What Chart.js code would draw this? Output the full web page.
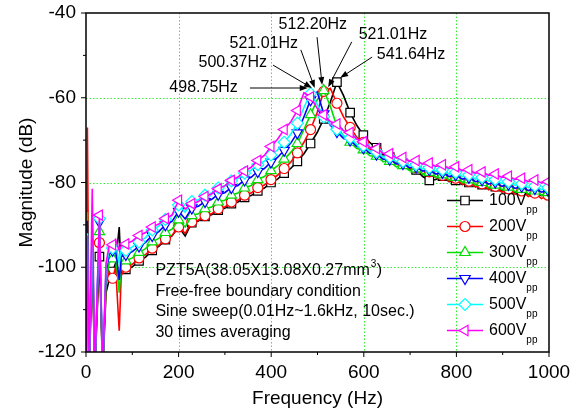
<!DOCTYPE html>
<html>
<head>
<meta charset="utf-8">
<script src="https://cdn.jsdelivr.net/npm/chart.js@4.4.0/dist/chart.umd.min.js"></script>
<style>
  html, body { margin: 0; padding: 0; background: #fff; }
</style>
</head>
<body>
<canvas id="myChart" width="571" height="419"></canvas>
<script>
// frequency axis (Hz), shared by all sweeps
const freq = [0.5, 3, 7, 13.5, 19, 29, 36, 43.25, 50, 57.5, 64, 71.75, 76, 86,
  100.25, 114.5, 128.75, 143, 157.25, 171.5, 185.75, 200, 214.25, 228.5, 242.75, 257, 271.25,
  285.5, 299.75, 314, 328.25, 342.5, 356.75, 371, 385.25, 399.5, 413.75, 428, 442.25, 456.5,
  470.75, 485, 499.25, 513.5, 527.75, 542, 556.25, 570.5, 584.75, 599, 613.25, 627.5, 641.75,
  656, 670.25, 684.5, 698.75, 713, 727.25, 741.5, 755.75, 770, 784.25, 798.5, 812.75, 827,
  841.25, 855.5, 869.75, 884, 898.25, 912.5, 926.75, 941, 955.25, 969.5, 983.75, 998, 1012.25];

// magnitude (dB) per drive level
const v100 = [-125, -90, -125, -98, -125, -97.5, -125, -106, -103, -101, -99, -90.5, -101, -100.5,
  -99.9, -98.5, -97.6, -96, -95.1, -93.5, -92.6, -90.5, -92.6, -89.5, -89.1, -88, -87.6, -86.5,
  -86.1, -85, -84.6, -83.5, -83.1, -82, -81.3, -80, -79.2, -77.8, -76.7, -75, -73.2, -70.8, -68.2,
  -65, -61, -56.3, -59.5, -63.5, -66.5, -68.8, -70.6, -71.8, -73.4, -74, -75.3, -75.5, -76.8, -77,
  -78.6, -79.5, -79.3, -78.5, -79.8, -79.5, -80.5, -80, -81, -80.5, -81.5, -81, -82, -81.5, -82.4,
  -81.8, -82.8, -82.2, -83.1, -82.5, -83.5];
const v200 = [-125, -67, -125, -95, -125, -94.2, -125, -104, -101, -102.6, -100, -115, -102, -100,
  -99.3, -97.8, -97, -95.5, -94.8, -93.3, -92.5, -90.5, -92, -89.3, -88.9, -87.8, -87.4, -86.2,
  -85.8, -84.6, -84.2, -83, -82.5, -81.2, -80.6, -79.3, -78.3, -76.7, -75.2, -73, -70.5, -67.5,
  -63.5, -58.5, -57.8, -61.3, -64.5, -67, -69.3, -70.5, -72.2, -72.5, -74, -74, -75.5, -75.5, -76.8,
  -76.5, -78, -77.5, -78.9, -78.3, -79.7, -79, -80.4, -79.7, -81.1, -80.3, -81.7, -80.9, -82.3,
  -81.5, -82.8, -82, -83.3, -82.5, -83.8, -83, -84];
const v300 = [-125, -87, -125, -93, -125, -91.6, -125, -103, -99, -98, -97, -106, -99, -98.5,
  -97.8, -96.5, -95.6, -94, -93.2, -91.8, -91, -88.8, -90.5, -87.8, -87.4, -86.2, -85.8, -84.6,
  -84.2, -83, -82.5, -81.3, -80.7, -79.3, -78.6, -77.2, -76.1, -74.5, -72.9, -70.8, -67.5, -64,
  -60.5, -58.3, -62, -66.8, -69, -70.5, -72, -72.3, -73.7, -73.8, -75.1, -75, -76.3, -76, -77.2,
  -76.8, -78, -77.6, -78.8, -78.2, -79.4, -78.8, -80, -79.4, -80.6, -80, -81.2, -80.6, -81.7,
  -81.1, -82.2, -81.6, -82.7, -82, -83, -82.4, -83.4];
const v400 = [-125, -89, -125, -90, -125, -89.3, -125, -101, -97, -96, -95.5, -103, -97.5, -97,
  -96.3, -95, -94.1, -92.5, -91.6, -90, -89.2, -86.8, -88.6, -86, -85.6, -84.5, -84, -82.8,
  -82.4, -81.2, -80.7, -79.4, -78.8, -77.4, -76.7, -75.2, -74.1, -72.4, -70.7, -68.3, -64.5, -60.5,
  -58.6, -63.8, -66.5, -68, -69.6, -70, -71.5, -71.8, -73.1, -73.3, -74.5, -74.5, -75.6, -75.5,
  -76.5, -76.3, -77.3, -77, -78, -77.6, -78.6, -78.2, -79.2, -78.8, -79.8, -79.4, -80.4, -79.9,
  -80.9, -80.4, -81.4, -80.9, -81.9, -81.4, -82.3, -81.8, -82.8];
const v500 = [-125, -92, -125, -88.5, -125, -88.5, -125, -100, -96, -95.5, -94.5, -99, -96, -96,
  -95.2, -94, -93, -91.2, -90.3, -88.7, -87.8, -85.3, -87, -84.5, -84.1, -83, -82.5, -81.3,
  -80.8, -79.6, -79, -77.8, -77.1, -75.8, -75, -73.5, -72.3, -70.5, -68.6, -66, -62.3, -59,
  -61.5, -64.5, -66.3, -67.5, -69, -69.5, -71, -71.3, -72.6, -72.8, -74, -74, -75.1, -75, -76,
  -75.8, -76.8, -76.5, -77.4, -77, -78, -77.6, -78.6, -78.2, -79.2, -78.8, -79.7, -79.3, -80.2,
  -79.8, -80.7, -80.3, -81.2, -80.8, -81.7, -81.2, -82.1];
const v600 = [-125, -92.5, -125, -81.5, -125, -87.7, -125, -99, -95, -94.7, -93.5, -96, -95, -94.5,
  -93.8, -92.5, -91.8, -90.5, -89.8, -88.5, -87.7, -84.2, -86.3, -85, -84.5, -83.3, -82.7, -81.5,
  -80.8, -79.5, -78.7, -77.3, -76.4, -74.8, -73.6, -71.5, -69.8, -67.5, -65.7, -63, -58.8, -59.8,
  -62.5, -64, -65.6, -66.2, -67.8, -68.2, -69.8, -70.4, -71.7, -72, -73.1, -73.2, -74.2, -74.1,
  -75, -74.8, -75.7, -75.4, -76.2, -75.8, -76.7, -76.3, -77.2, -77, -77.8, -77.5, -78.3, -78,
  -78.8, -78.5, -79.3, -79, -79.8, -79.4, -80.1, -79.8, -80.5];

const seriesNames = ['100V', '200V', '300V', '400V', '500V', '600V'];
const seriesValues = [v100, v200, v300, v400, v500, v600];
const colors = ['#000000', '#ff0000', '#00dd00', '#0000ff', '#00ffff', '#ff00ff'];
const markers = ['rect', 'circle', 'triangle', 'triangle', 'rectRot', 'triangle'];
const markerRot = [0, 0, 0, 180, 0, 270];
const markerSize = [6, 5, 6, 6, 6, 6];

// resonance peak labels: text, label position, arrow start, arrow tip (data units)
const peakLabels = ['498.75Hz', '500.37Hz', '521.01Hz', '512.20Hz', '521.01Hz', '541.64Hz'];
const labelPos = [[254, -57.7], [317, -51.8], [384, -47.3], [490, -42.8], [663, -45], [702, -49.7]];
const arrowFrom = [[354, -57.7], [404, -52.3], [464, -48.7], [499, -45.7], [574, -46.8], [618, -50.4]];
const arrowTo = [[479, -57.7], [488, -57.7], [494, -57.7], [510, -57], [523, -57.5], [549, -55.3]];

const infoLines = ['PZT5A(38.05X13.08X0.27mm', 'Free-free boundary condition',
  'Sine sweep(0.01Hz~1.6kHz, 10sec.)', '30 times averaging'];

const xMajor = [0, 200, 400, 600, 800, 1000];
const xMinor = [100, 300, 500, 700, 900];
const yMajor = [-40, -60, -80, -100, -120];
const yMinor = [-50, -70, -90, -110];

const FONT = '"Liberation Sans", Arial, sans-serif';

function isMarker(f) {
  const k = (f - 0.5) / 28.5;
  return f > 10 && Math.abs(k - Math.round(k)) < 1e-6;
}

const frame = {
  id: 'frame',
  beforeDatasetsDraw(chart) {
    const { ctx, chartArea: a, scales: { x, y } } = chart;
    ctx.save();
    ctx.strokeStyle = '#33ee33';
    ctx.lineWidth = 1;
    ctx.setLineDash([1.5, 2]);
    xMajor.slice(1, -1).forEach(v => {
      const px = Math.round(x.getPixelForValue(v)) + 0.5;
      ctx.beginPath(); ctx.moveTo(px, a.top); ctx.lineTo(px, a.bottom); ctx.stroke();
    });
    yMajor.slice(1, -1).forEach(v => {
      const py = Math.round(y.getPixelForValue(v)) + 0.5;
      ctx.beginPath(); ctx.moveTo(a.left, py); ctx.lineTo(a.right, py); ctx.stroke();
    });
    ctx.restore();
  },
  afterDatasetsDraw(chart) {
    const { ctx, chartArea: a, scales: { x, y } } = chart;
    ctx.save();
    ctx.strokeStyle = '#000';
    ctx.lineWidth = 1.5;
    ctx.strokeRect(a.left, a.top, a.right - a.left, a.bottom - a.top);
    ctx.lineWidth = 1;
    ctx.beginPath();
    xMajor.forEach(v => { const px = x.getPixelForValue(v); ctx.moveTo(px, a.bottom); ctx.lineTo(px, a.bottom + 5); });
    xMinor.forEach(v => { const px = x.getPixelForValue(v); ctx.moveTo(px, a.bottom); ctx.lineTo(px, a.bottom + 3); });
    yMajor.forEach(v => { const py = y.getPixelForValue(v); ctx.moveTo(a.left, py); ctx.lineTo(a.left - 5, py); });
    yMinor.forEach(v => { const py = y.getPixelForValue(v); ctx.moveTo(a.left, py); ctx.lineTo(a.left - 3, py); });
    ctx.stroke();
    ctx.restore();
  }
};

function drawMarker(ctx, i, cx, cy) {
  Chart.helpers.drawPoint(ctx, {
    pointStyle: markers[i], rotation: markerRot[i], radius: markerSize[i], borderWidth: 1.2
  }, cx, cy);
}

const extras = {
  id: 'extras',
  afterDraw(chart) {
    const { ctx, scales: { x, y } } = chart;
    ctx.save();
    // legend
    seriesNames.forEach((name, i) => {
      const ry = 200.5 + i * 26;
      ctx.strokeStyle = colors[i];
      ctx.fillStyle = '#fff';
      ctx.lineWidth = 1.5;
      ctx.beginPath(); ctx.moveTo(447, ry); ctx.lineTo(483, ry); ctx.stroke();
      ctx.lineWidth = 1.2;
      drawMarker(ctx, i, 465, ry);
      ctx.fillStyle = '#000';
      ctx.font = '16px ' + FONT;
      ctx.textAlign = 'left';
      ctx.textBaseline = 'middle';
      ctx.fillText(name, 489, ry);
      const w = ctx.measureText(name).width;
      ctx.font = '10px ' + FONT;
      ctx.fillText('pp', 489 + w, ry + 10);
    });
    // info text
    ctx.fillStyle = '#000';
    ctx.font = '16px ' + FONT;
    ctx.textAlign = 'left';
    ctx.textBaseline = 'middle';
    const tx = x.getPixelForValue(150);
    infoLines.forEach((t, i) => {
      const ty = y.getPixelForValue(-100.8 - i * 4.85);
      ctx.fillText(t, tx, ty);
      if (i === 0) {
        const w = ctx.measureText(t).width;
        ctx.font = '10px ' + FONT;
        ctx.fillText('3', tx + w + 1, ty - 6);
        ctx.font = '16px ' + FONT;
        ctx.fillText(')', tx + w + 7, ty);
      }
    });
    // peak annotations
    ctx.font = '16px ' + FONT;
    ctx.textAlign = 'center';
    peakLabels.forEach((t, i) => {
      ctx.fillStyle = '#000';
      ctx.fillText(t, x.getPixelForValue(labelPos[i][0]), y.getPixelForValue(labelPos[i][1]));
      const x0 = x.getPixelForValue(arrowFrom[i][0]), y0 = y.getPixelForValue(arrowFrom[i][1]);
      const x1 = x.getPixelForValue(arrowTo[i][0]), y1 = y.getPixelForValue(arrowTo[i][1]);
      const ang = Math.atan2(y1 - y0, x1 - x0);
      ctx.strokeStyle = '#000';
      ctx.lineWidth = 1;
      ctx.beginPath(); ctx.moveTo(x0, y0); ctx.lineTo(x1 - 6 * Math.cos(ang), y1 - 6 * Math.sin(ang)); ctx.stroke();
      ctx.beginPath();
      ctx.moveTo(x1, y1);
      ctx.lineTo(x1 - 8 * Math.cos(ang) + 3 * Math.sin(ang), y1 - 8 * Math.sin(ang) - 3 * Math.cos(ang));
      ctx.lineTo(x1 - 8 * Math.cos(ang) - 3 * Math.sin(ang), y1 - 8 * Math.sin(ang) + 3 * Math.cos(ang));
      ctx.closePath();
      ctx.fill();
    });
    ctx.restore();
  }
};

const ctx = document.getElementById('myChart').getContext('2d');
new Chart(ctx, {
  type: 'line',
  data: {
    datasets: seriesValues.map((vals, i) => ({
      label: seriesNames[i],
      data: freq.map((f, j) => ({ x: f, y: vals[j] })),
      borderColor: colors[i],
      backgroundColor: '#fff',
      borderWidth: 1.6,
      pointStyle: markers[i],
      rotation: markerRot[i],
      pointBorderWidth: 1.2,
      pointRadius: c => isMarker(freq[c.dataIndex]) ? markerSize[i] : 0,
      tension: 0,
      order: 6 - i
    }))
  },
  options: {
    responsive: false,
    animation: false,
    events: [],
    layout: { padding: { left: 0, top: 13, right: 22, bottom: 0 } },
    plugins: { legend: { display: false }, tooltip: { enabled: false } },
    scales: {
      x: {
        type: 'linear', min: 0, max: 1000,
        afterFit: s => { s.height = 67; s.paddingLeft = 0; s.paddingRight = 0; },
        grid: { display: false, drawTicks: false },
        border: { display: false },
        ticks: { stepSize: 200, color: '#000', padding: 9, maxRotation: 0, font: { family: FONT, size: 19 },
          callback: v => String(v) },
        title: { display: true, text: 'Frequency (Hz)', color: '#000', padding: { top: 0, bottom: 9 }, font: { family: FONT, size: 19 } }
      },
      y: {
        type: 'linear', min: -120, max: -40,
        afterFit: s => { s.width = 86; s.paddingTop = 0; s.paddingBottom = 0; },
        grid: { display: false, drawTicks: false },
        border: { display: false },
        ticks: { stepSize: 20, color: '#000', padding: 10, font: { family: FONT, size: 19 },
          callback: v => String(v) },
        title: { display: true, text: 'Magnitude (dB)', color: '#000', padding: { top: 15, bottom: 0 }, font: { family: FONT, size: 19 } }
      }
    }
  },
  plugins: [frame, extras]
});
</script>
</body>
</html>
